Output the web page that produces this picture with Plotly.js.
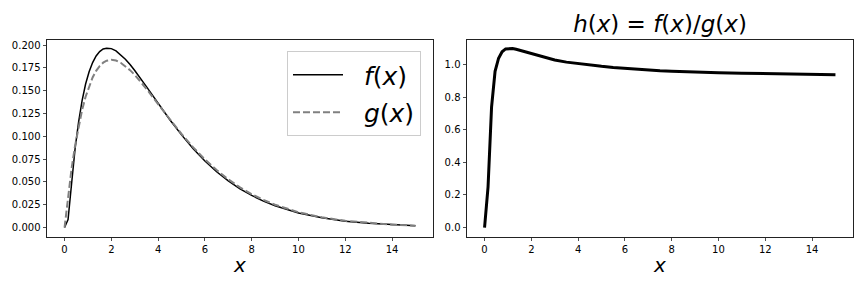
<!DOCTYPE html>
<html>
<head>
<meta charset="utf-8">
<script src="https://cdn.plot.ly/plotly-3.0.1.min.js"></script>
<style>html,body{margin:0;padding:0;background:#fff;}#chart{width:864px;height:288px;}</style>
</head>
<body>
<div id="chart"></div>
<script>
const xVals = [0, 0.15, 0.3, 0.45, 0.6, 0.75, 0.9, 1.05, 1.2, 1.35, 1.5, 1.65, 1.8, 2.0, 2.2, 2.4, 2.6, 2.8, 3.0, 3.5, 4.0, 4.5, 5, 5.5, 6, 6.5, 7, 7.5, 8, 8.5, 9, 10, 11, 12, 13, 14, 15];
const fVals = [0, 0.0087, 0.0478, 0.0862, 0.1156, 0.1392, 0.1574, 0.1708, 0.1809, 0.1882, 0.1929, 0.1958, 0.1966, 0.1962, 0.1937, 0.1896, 0.1846, 0.1787, 0.1722, 0.1545, 0.1362, 0.1182, 0.1016, 0.0864, 0.0730, 0.0612, 0.0511, 0.0425, 0.0352, 0.0290, 0.0239, 0.0160, 0.0107, 0.0070, 0.0046, 0.0030, 0.0019];
const gVals = [0, 0.0348, 0.0646, 0.0898, 0.1111, 0.1289, 0.1435, 0.1553, 0.1646, 0.1718, 0.1771, 0.1808, 0.1830, 0.1839, 0.1831, 0.1807, 0.1771, 0.1726, 0.1674, 0.1521, 0.1353, 0.1186, 0.1026, 0.0879, 0.0747, 0.0630, 0.0528, 0.0441, 0.0366, 0.0303, 0.0250, 0.0168, 0.0112, 0.0074, 0.0049, 0.0032, 0.0021];
const hVals = [0, 0.25, 0.74, 0.96, 1.04, 1.08, 1.097, 1.100, 1.099, 1.095, 1.089, 1.083, 1.076, 1.067, 1.058, 1.049, 1.042, 1.035, 1.029, 1.016, 1.006, 0.997, 0.990, 0.983, 0.977, 0.972, 0.967, 0.963, 0.960, 0.957, 0.955, 0.951, 0.948, 0.945, 0.943, 0.941, 0.939];
const xTicks = [0, 2, 4, 6, 8, 10, 12, 14];

const traces = [
  {x: xVals, y: fVals, type: 'scatter', mode: 'lines', name: '\u00a0\u00a0<i>f</i>(<i>x</i>)',
   line: {color: '#000000', width: 1.5}, xaxis: 'x', yaxis: 'y', legendgroup: 'a'},
  {x: xVals, y: gVals, type: 'scatter', mode: 'lines', name: '\u00a0\u00a0<i>g</i>(<i>x</i>)',
   line: {color: '#808080', width: 2, dash: '7px,3px'}, xaxis: 'x', yaxis: 'y', legendgroup: 'b'},
  {x: xVals, y: hVals, type: 'scatter', mode: 'lines', name: 'h',
   line: {color: '#000000', width: 3}, xaxis: 'x2', yaxis: 'y2', showlegend: false}
];

const axCommon = {
  showline: true, mirror: true, linecolor: '#222', linewidth: 1,
  ticks: 'outside', ticklen: 3.5, tickwidth: 0.8, tickcolor: '#222',
  showgrid: false, zeroline: false,
  tickfont: {family: 'DejaVu Sans', size: 10, color: '#000'}
};

const layout = {
  width: 864, height: 288, autosize: false,
  margin: {l: 0, r: 0, t: 0, b: 0},
  paper_bgcolor: '#fff', plot_bgcolor: '#fff',
  font: {family: 'DejaVu Sans', color: '#000'},
  title: {text: '<i>h</i>(<i>x</i>) = <i>f</i>(<i>x</i>)/<i>g</i>(<i>x</i>)', font: {family: 'DejaVu Sans', size: 23, color: '#000'},
          x: 660/864, xref: 'paper', xanchor: 'center', y: 1 - 24/288, yref: 'container', yanchor: 'middle'},
  xaxis: Object.assign({}, axCommon, {domain: [47/864, 433/864], range: [-0.75, 15.75], tickvals: xTicks,
          title: {text: '<i>x</i>', font: {family: 'DejaVu Sans', size: 20, color: '#000'}, standoff: 3}}),
  yaxis: Object.assign({}, axCommon, {domain: [1 - 236.5/288, 1 - 39.5/288], range: [-0.0098, 0.2062], dtick: 0.025, tick0: 0, tickformat: '.3f'}),
  xaxis2: Object.assign({}, axCommon, {domain: [467/864, 853/864], range: [-0.75, 15.75], tickvals: xTicks, anchor: 'y2',
          title: {text: '<i>x</i>', font: {family: 'DejaVu Sans', size: 20, color: '#000'}, standoff: 3}}),
  yaxis2: Object.assign({}, axCommon, {domain: [1 - 236.5/288, 1 - 39.5/288], range: [-0.055, 1.155], dtick: 0.2, tick0: 0, tickformat: '.1f', anchor: 'x2'}),
  showlegend: true,
  legend: {x: 287/864, y: 1 - 51/288, xanchor: 'left', yanchor: 'top', xref: 'paper', yref: 'paper',
           bgcolor: 'rgba(255,255,255,0.8)', bordercolor: '#cccccc', borderwidth: 1,
           font: {family: 'DejaVu Sans', size: 25, color: '#000'},
           traceorder: 'grouped', tracegroupgap: 2, itemwidth: 50}
};

Plotly.newPlot('chart', traces, layout, {staticPlot: true, displayModeBar: false});
</script>
</body>
</html>
